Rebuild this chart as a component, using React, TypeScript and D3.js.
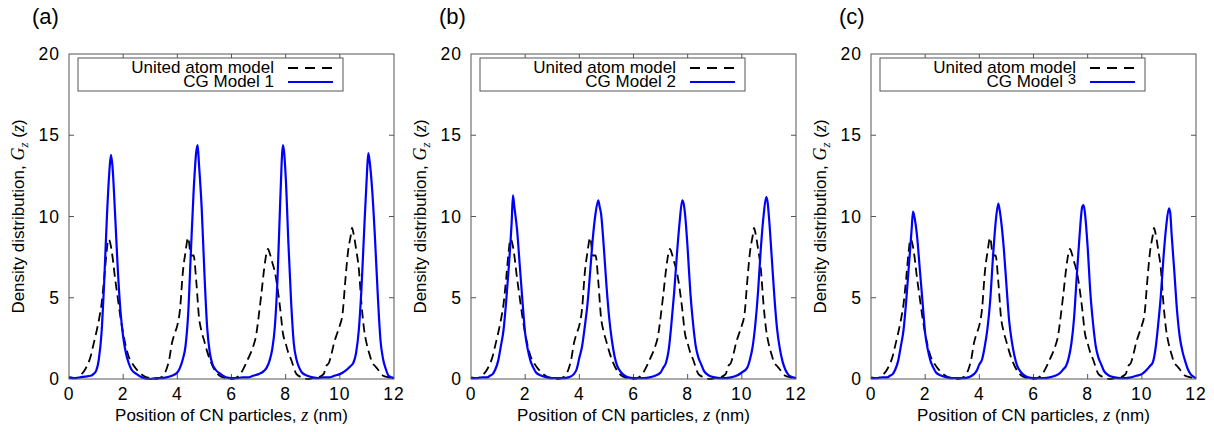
import React, { useEffect, useRef } from 'react'
import * as d3 from 'd3'

// [z (nm), Gz(z)]
const unitedAtom: [number, number][] = [
  [0.0, 0.1], [0.2, 0.05], [0.4, 0.2], [0.6, 0.6], [0.8, 1.4], [0.9, 2.1], [1.0, 2.8], [1.1, 3.6],
  [1.2, 4.6], [1.3, 6.2], [1.4, 8.0], [1.45, 8.6], [1.5, 8.5], [1.6, 7.6], [1.7, 6.2], [1.8, 5.0],
  [1.9, 3.8], [2.0, 2.8], [2.1, 2.0], [2.2, 1.4], [2.4, 0.8], [2.6, 0.4], [2.8, 0.15], [3.0, 0.05],
  [3.2, 0.0], [3.4, 0.1], [3.6, 0.6], [3.7, 1.2], [3.8, 2.2], [3.9, 2.8], [4.0, 3.3], [4.1, 4.3],
  [4.2, 6.5], [4.3, 7.8], [4.4, 8.7], [4.5, 7.6], [4.6, 7.6], [4.7, 6.0], [4.8, 3.8], [4.9, 2.9],
  [5.0, 2.3], [5.1, 1.7], [5.2, 1.2], [5.4, 0.5], [5.6, 0.15], [5.8, 0.05], [6.0, 0.0], [6.2, 0.1],
  [6.4, 0.5], [6.6, 1.2], [6.8, 2.0], [6.9, 2.6], [7.0, 3.8], [7.1, 5.2], [7.2, 6.7], [7.3, 7.8],
  [7.35, 8.0], [7.4, 7.8], [7.5, 7.2], [7.6, 6.6], [7.7, 5.6], [7.8, 4.3], [7.9, 2.8], [8.0, 2.2],
  [8.1, 1.6], [8.2, 1.2], [8.4, 0.3], [8.6, 0.1], [8.8, 0.0], [9.0, 0.05], [9.2, 0.1], [9.4, 0.3],
  [9.5, 0.8], [9.6, 1.0], [9.7, 1.6], [9.8, 2.3], [9.9, 2.8], [10.0, 3.3], [10.1, 4.0], [10.2, 6.0],
  [10.3, 7.8], [10.4, 8.8], [10.45, 9.3], [10.5, 9.0], [10.6, 8.0], [10.7, 6.8], [10.8, 4.6], [10.9, 3.0],
  [11.0, 2.1], [11.1, 1.5], [11.2, 1.0], [11.3, 0.8], [11.4, 0.6], [11.6, 0.2], [11.8, 0.1], [12.0, 0.0]
]

const cgModel1: [number, number][] = [
  [0.0, 0.1], [0.2, 0.05], [0.4, 0.1], [0.6, 0.15], [0.8, 0.2], [0.9, 0.3], [1.0, 0.5], [1.1, 1.2],
  [1.2, 2.8], [1.3, 6.0], [1.4, 10.0], [1.5, 13.0], [1.55, 13.8], [1.6, 13.2], [1.7, 10.2], [1.8, 6.8],
  [1.9, 4.2], [2.0, 2.6], [2.1, 1.6], [2.2, 1.0], [2.3, 0.6], [2.5, 0.3], [2.7, 0.1], [3.0, 0.0],
  [3.2, 0.05], [3.4, 0.05], [3.6, 0.1], [3.8, 0.2], [4.0, 0.4], [4.1, 0.7], [4.2, 1.2], [4.3, 2.0],
  [4.4, 4.0], [4.5, 7.8], [4.6, 11.5], [4.7, 14.0], [4.75, 14.4], [4.8, 13.2], [4.9, 10.5], [5.0, 6.5],
  [5.1, 3.2], [5.2, 1.6], [5.3, 0.9], [5.4, 0.6], [5.6, 0.3], [5.8, 0.1], [6.0, 0.05], [6.2, 0.05],
  [6.4, 0.1], [6.6, 0.1], [6.8, 0.2], [7.0, 0.3], [7.2, 0.5], [7.3, 0.7], [7.4, 1.1], [7.5, 1.8],
  [7.6, 3.2], [7.7, 6.2], [7.8, 11.0], [7.9, 14.4], [8.0, 12.5], [8.1, 8.4], [8.2, 4.8], [8.3, 2.2],
  [8.4, 1.2], [8.5, 0.7], [8.6, 0.4], [8.8, 0.2], [9.0, 0.1], [9.2, 0.05], [9.4, 0.1], [9.6, 0.1],
  [9.8, 0.2], [10.0, 0.3], [10.2, 0.5], [10.4, 0.8], [10.5, 1.0], [10.6, 1.6], [10.7, 3.0], [10.8, 5.6],
  [10.9, 9.2], [11.0, 12.6], [11.05, 13.9], [11.1, 13.4], [11.2, 11.5], [11.3, 8.6], [11.4, 5.2], [11.5, 2.4],
  [11.6, 1.2], [11.7, 0.6], [11.8, 0.2], [11.9, 0.1], [12.0, 0.05]
]

const cgModel2: [number, number][] = [
  [0.0, 0.05], [0.2, 0.05], [0.4, 0.1], [0.6, 0.1], [0.7, 0.2], [0.8, 0.3], [0.9, 0.6], [1.0, 1.1],
  [1.1, 2.0], [1.2, 3.0], [1.3, 4.8], [1.4, 7.0], [1.5, 9.6], [1.55, 11.3], [1.6, 10.6], [1.7, 9.2],
  [1.8, 7.0], [1.9, 4.8], [2.0, 2.8], [2.1, 1.8], [2.2, 1.1], [2.3, 0.7], [2.4, 0.4], [2.6, 0.2],
  [2.8, 0.1], [3.0, 0.05], [3.2, 0.05], [3.4, 0.05], [3.6, 0.1], [3.8, 0.3], [3.9, 0.6], [4.0, 1.3],
  [4.1, 2.0], [4.2, 3.2], [4.3, 4.6], [4.4, 6.6], [4.5, 8.7], [4.6, 10.2], [4.7, 11.0], [4.75, 10.6],
  [4.8, 10.2], [4.9, 8.2], [5.0, 5.8], [5.1, 3.8], [5.2, 2.4], [5.3, 1.4], [5.4, 0.8], [5.5, 0.5],
  [5.6, 0.3], [5.8, 0.1], [6.0, 0.05], [6.2, 0.05], [6.4, 0.05], [6.6, 0.1], [6.8, 0.2], [7.0, 0.4],
  [7.1, 0.7], [7.2, 1.0], [7.3, 1.8], [7.4, 3.4], [7.5, 5.3], [7.6, 7.6], [7.7, 9.6], [7.8, 11.0],
  [7.85, 10.8], [7.9, 10.2], [8.0, 8.0], [8.1, 5.3], [8.2, 3.4], [8.3, 2.0], [8.4, 1.3], [8.5, 0.9],
  [8.6, 0.5], [8.8, 0.2], [9.0, 0.1], [9.2, 0.05], [9.4, 0.05], [9.6, 0.1], [9.8, 0.2], [10.0, 0.4],
  [10.2, 0.7], [10.3, 1.2], [10.4, 2.0], [10.5, 3.4], [10.6, 5.4], [10.7, 8.0], [10.8, 10.0], [10.9, 11.2],
  [10.95, 10.9], [11.0, 10.0], [11.1, 7.6], [11.2, 5.1], [11.3, 3.1], [11.4, 1.9], [11.5, 1.1], [11.6, 0.6],
  [11.7, 0.3], [11.8, 0.15], [12.0, 0.05]
]

const cgModel3: [number, number][] = [
  [0.0, 0.05], [0.2, 0.05], [0.4, 0.1], [0.6, 0.1], [0.7, 0.2], [0.8, 0.3], [0.9, 0.6], [1.0, 1.1],
  [1.1, 2.0], [1.2, 3.0], [1.3, 4.8], [1.4, 7.0], [1.5, 9.2], [1.55, 10.3], [1.6, 10.0], [1.7, 8.8],
  [1.8, 6.8], [1.9, 4.8], [2.0, 2.8], [2.1, 1.8], [2.2, 1.1], [2.3, 0.7], [2.4, 0.4], [2.6, 0.2],
  [2.8, 0.1], [3.0, 0.05], [3.2, 0.05], [3.4, 0.05], [3.6, 0.1], [3.8, 0.3], [3.9, 0.5], [4.0, 0.9],
  [4.1, 1.2], [4.2, 2.0], [4.3, 3.1], [4.4, 4.8], [4.5, 7.4], [4.6, 9.6], [4.7, 10.8], [4.75, 10.4],
  [4.8, 9.8], [4.9, 8.1], [5.0, 5.8], [5.1, 3.6], [5.2, 2.3], [5.3, 1.4], [5.4, 0.8], [5.5, 0.5],
  [5.6, 0.3], [5.8, 0.1], [6.0, 0.05], [6.2, 0.05], [6.4, 0.05], [6.6, 0.1], [6.8, 0.2], [7.0, 0.4],
  [7.1, 0.6], [7.2, 0.8], [7.3, 1.3], [7.4, 2.2], [7.5, 3.8], [7.6, 6.4], [7.7, 8.8], [7.8, 10.6],
  [7.85, 10.7], [7.9, 10.2], [8.0, 8.1], [8.1, 5.3], [8.2, 3.4], [8.3, 2.0], [8.4, 1.3], [8.5, 0.9],
  [8.6, 0.5], [8.8, 0.2], [9.0, 0.1], [9.2, 0.05], [9.4, 0.05], [9.6, 0.1], [9.8, 0.2], [10.0, 0.3],
  [10.2, 0.6], [10.3, 0.8], [10.4, 1.0], [10.5, 1.8], [10.6, 3.3], [10.7, 5.1], [10.8, 7.5], [10.9, 9.4],
  [11.0, 10.5], [11.05, 10.2], [11.1, 8.9], [11.2, 6.6], [11.3, 4.2], [11.4, 2.6], [11.5, 1.7], [11.6, 1.1],
  [11.7, 0.6], [11.8, 0.3], [11.9, 0.15], [12.0, 0.05]
]

const xTicks = [0, 2, 4, 6, 8, 10, 12]
const yTicks = [0, 5, 10, 15, 20]
const panelLabels = ['(a)', '(b)', '(c)']
const cgNames = ['CG Model 1', 'CG Model 2', 'CG Model 3']
const cgSeries = [cgModel1, cgModel2, cgModel3]

const W = 1214
const H = 432
const panelLeft = [69, 471, 871]
const plotW = 325
const plotTop = 54
const plotH = 325
const font = '"Liberation Sans", Arial, Helvetica, sans-serif'
const serif = '"Liberation Serif", "Times New Roman", serif'
const axisColor = '#555'
const fs = 17

export default function App() {
  const ref = useRef<SVGSVGElement>(null)

  useEffect(() => {
    const svg = d3.select(ref.current)
    svg.selectAll('*').remove()

    panelLabels.forEach((label, p) => {
      const g = svg.append('g').attr('transform', `translate(${panelLeft[p]},${plotTop})`)
      const x = d3.scaleLinear().domain([0, 12]).range([0, plotW])
      const y = d3.scaleLinear().domain([0, 20]).range([plotH, 0])

      // panel label
      svg.append('text')
        .attr('x', panelLeft[p] - (p === 0 ? 37 : 32))
        .attr('y', 24)
        .attr('font-family', font)
        .attr('font-size', 22)
        .text(label)

      // ticks (inside, mirrored)
      xTicks.slice(1, -1).forEach(t => {
        g.append('line').attr('x1', x(t)).attr('x2', x(t)).attr('y1', plotH).attr('y2', plotH - 5)
          .attr('stroke', axisColor)
        g.append('line').attr('x1', x(t)).attr('x2', x(t)).attr('y1', 0).attr('y2', 5)
          .attr('stroke', axisColor)
      })
      yTicks.slice(1, -1).forEach(t => {
        g.append('line').attr('x1', 0).attr('x2', 5).attr('y1', y(t)).attr('y2', y(t))
          .attr('stroke', axisColor)
        g.append('line').attr('x1', plotW).attr('x2', plotW - 5).attr('y1', y(t)).attr('y2', y(t))
          .attr('stroke', axisColor)
      })

      xTicks.forEach(t => {
        g.append('text').attr('x', x(t)).attr('y', plotH + 21)
          .attr('text-anchor', 'middle').attr('font-family', font).attr('font-size', 17.5)
          .attr('letter-spacing', 1)
          .text(t)
      })
      yTicks.forEach(t => {
        g.append('text').attr('x', -9).attr('y', y(t)).attr('dy', '0.35em')
          .attr('text-anchor', 'end').attr('font-family', font).attr('font-size', 17.5)
          .attr('letter-spacing', 1)
          .text(t)
      })

      // x title
      const xt = g.append('text').attr('x', plotW / 2).attr('y', plotH + 42)
        .attr('text-anchor', 'middle').attr('font-family', font).attr('font-size', fs)
      xt.append('tspan').text('Position of CN particles, ')
      xt.append('tspan').attr('font-family', serif).attr('font-style', 'italic').attr('font-size', 18).text('z')
      xt.append('tspan').text(' (nm)')

      // y title
      const yt = g.append('text')
        .attr('transform', `translate(-45,${plotH / 2}) rotate(-90)`)
        .attr('text-anchor', 'middle').attr('font-family', font).attr('font-size', fs)
      yt.append('tspan').text('Density distribution, ')
      yt.append('tspan').attr('font-family', serif).attr('font-style', 'italic').attr('font-size', 18).text('G')
      yt.append('tspan').attr('font-family', serif).attr('font-style', 'italic').attr('font-size', 13).attr('dy', 4).text('z')
      yt.append('tspan').attr('dy', -4).text(' (')
      yt.append('tspan').attr('font-family', serif).attr('font-style', 'italic').attr('font-size', 18).text('z')
      yt.append('tspan').text(')')

      const line = d3.line<[number, number]>()
        .x(d => x(d[0]))
        .y(d => y(d[1]))
        .curve(d3.curveMonotoneX)

      g.append('path').datum(unitedAtom)
        .attr('fill', 'none').attr('stroke', '#000').attr('stroke-width', 1.8)
        .attr('stroke-dasharray', '9,5').attr('d', line)
      g.append('path').datum(cgSeries[p])
        .attr('fill', 'none').attr('stroke', '#0000ff').attr('stroke-width', 2.2)
        .attr('d', line)

      // frame
      g.append('rect').attr('x', 0).attr('y', 0).attr('width', plotW).attr('height', plotH)
        .attr('fill', 'none').attr('stroke', axisColor).attr('stroke-width', 1)

      // legend
      const lg = g.append('g').attr('transform', 'translate(9,4)')
      lg.append('rect').attr('x', 0).attr('y', 0).attr('width', 265).attr('height', 33)
        .attr('fill', '#fff').attr('stroke', axisColor).attr('stroke-width', 1)
      lg.append('text').attr('x', 196).attr('y', 15)
        .attr('text-anchor', 'end').attr('font-family', font).attr('font-size', fs)
        .text('United atom model')
      lg.append('line').attr('x1', 210).attr('x2', 255).attr('y1', 10).attr('y2', 10)
        .attr('stroke', '#000').attr('stroke-width', 1.8).attr('stroke-dasharray', '10,7')
      const cgText = lg.append('text').attr('x', 196).attr('y', 29)
        .attr('text-anchor', 'end').attr('font-family', font).attr('font-size', fs)
      if (p === 2) {
        cgText.append('tspan').text('CG Model ')
        cgText.append('tspan').attr('font-size', 15).attr('dy', -3).text('3')
      } else {
        cgText.text(cgNames[p])
      }
      lg.append('line').attr('x1', 210).attr('x2', 255).attr('y1', 24).attr('y2', 24)
        .attr('stroke', '#0000ff').attr('stroke-width', 2)
    })
  }, [])

  return (
    <svg ref={ref} width={W} height={H}
      style={{ position: 'absolute', left: 0, top: 0, background: '#fff' }} />
  )
}
